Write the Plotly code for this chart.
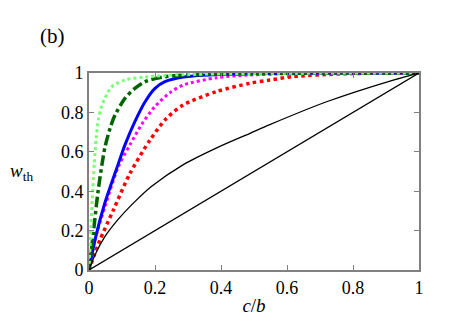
import plotly.graph_objects as go

# ---- data ----
x_diag = [0, 1]
y_diag = [0, 1]

x_black = [0, 0.018, 0.048, 0.089, 0.139, 0.19, 0.286, 0.387, 0.488, 0.548, 0.72, 0.922, 1]
y_black = [0, 0.076, 0.169, 0.258, 0.347, 0.425, 0.535, 0.62, 0.694, 0.738, 0.854, 0.964, 1]

x_red = [0, 0.018, 0.033, 0.074, 0.124, 0.185, 0.235, 0.286, 0.387, 0.488, 0.548, 0.619, 0.76, 0.9, 1]
y_red = [0, 0.085, 0.152, 0.305, 0.49, 0.66, 0.77, 0.838, 0.906, 0.948, 0.964, 0.982, 0.995, 1, 1]

x_mag = [0, 0.018, 0.048, 0.089, 0.124, 0.16, 0.2, 0.245, 0.286, 0.387, 0.488, 0.6, 0.8, 1]
y_mag = [0, 0.152, 0.32, 0.524, 0.635, 0.74, 0.83, 0.9, 0.939, 0.976, 0.99, 0.996, 1, 1]

x_blue = [0, 0.018, 0.048, 0.089, 0.109, 0.139, 0.17, 0.2, 0.23, 0.286, 0.387, 0.5, 0.7, 1]
y_blue = [0, 0.152, 0.34, 0.54, 0.635, 0.753, 0.854, 0.922, 0.956, 0.98, 0.992, 0.997, 1, 1]

x_dgreen = [0, 0.013, 0.028, 0.048, 0.064, 0.079, 0.109, 0.139, 0.17, 0.23, 0.3, 0.5, 0.7, 1]
y_dgreen = [0, 0.186, 0.406, 0.62, 0.72, 0.787, 0.871, 0.922, 0.956, 0.981, 0.99, 0.997, 1, 1]

x_lgreen = [0, 0.004, 0.01, 0.016, 0.022, 0.028, 0.038, 0.048, 0.069, 0.109, 0.17, 0.3, 0.5, 1]
y_lgreen = [0, 0.15, 0.36, 0.54, 0.67, 0.76, 0.83, 0.871, 0.93, 0.964, 0.98, 0.992, 0.998, 1]

x_ticks = [0, 0.2, 0.4, 0.6, 0.8, 1]
x_ticklabels = ["0", "0.2", "0.4", "0.6", "0.8", "1"]
y_ticks = [0, 0.2, 0.4, 0.6, 0.8, 1]
y_ticklabels = ["0", "0.2", "0.4", "0.6", "0.8", "1"]

SERIF = "'Liberation Serif', 'Times New Roman', 'DejaVu Serif', serif"

fig = go.Figure()

def add(x, y, color, width, dash="solid"):
    fig.add_trace(go.Scatter(x=x, y=y, mode="lines",
                             line=dict(color=color, width=width, dash=dash,
                                       shape="spline", smoothing=0.8)))

add(x_red, y_red, "#ff0000", 3.5, "dot")
add(x_mag, y_mag, "#ff00ff", 3, "dot")
add(x_blue, y_blue, "#0000ff", 3)
add(x_dgreen, y_dgreen, "#006400", 3.5, "dashdot")
add(x_lgreen, y_lgreen, "#77ff77", 3, "dot")
add(x_black, y_black, "#000000", 1.3)
add(x_diag, y_diag, "#000000", 1.3)

axis_common = dict(
    showgrid=False, zeroline=False, showline=True, linecolor="#808080",
    linewidth=2, mirror="ticks", ticks="inside", ticklen=5, tickwidth=1,
    tickcolor="#808080", automargin=False,
    tickfont=dict(family=SERIF, size=18, color="black"),
)

fig.update_xaxes(range=[0, 1], tickvals=x_ticks, ticktext=x_ticklabels,
                 title=dict(text="<i>c</i>/<i>b</i>", font=dict(family=SERIF, size=19, color="black"),
                            standoff=2),
                 **axis_common)
fig.update_yaxes(range=[0, 1], tickvals=y_ticks, ticktext=y_ticklabels, **axis_common)

fig.add_annotation(text="<i>w</i><sub>th</sub>", xref="paper", yref="paper",
                   x=-0.205, y=0.5, xanchor="center", yanchor="middle", showarrow=False,
                   font=dict(family=SERIF, size=19, color="black"))
fig.add_annotation(text="(b)", xref="paper", yref="paper",
                   x=-0.11, y=1.19, xanchor="center", yanchor="middle", showarrow=False,
                   font=dict(family=SERIF, size=21, color="black"))

# page body has an 8px margin, so the figure is shifted by 8px
fig.update_layout(
    width=459, height=319, showlegend=False,
    margin=dict(l=81, r=48, t=65, b=57),
    plot_bgcolor="white", paper_bgcolor="white",
    font=dict(family=SERIF, color="black"),
)

fig.write_html("out.html")
